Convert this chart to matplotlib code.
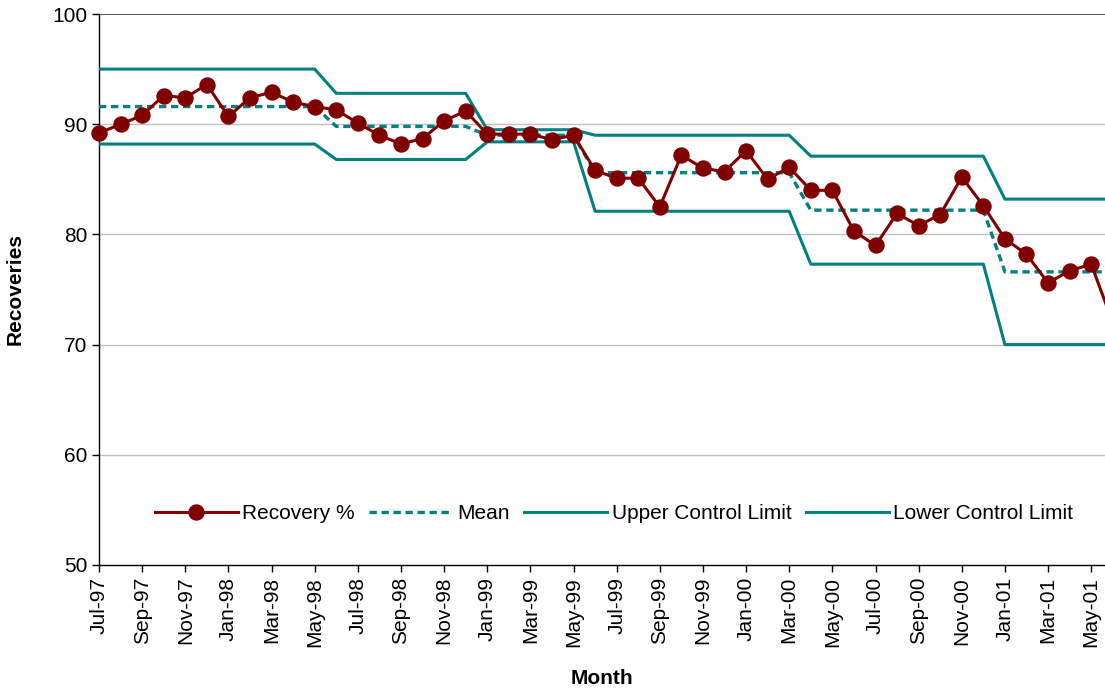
import numpy as np
import matplotlib.pyplot as plt

# monthly recovery %, Jul-97 .. Jun-01
months = ['Jul-97', 'Aug-97', 'Sep-97', 'Oct-97', 'Nov-97', 'Dec-97',
          'Jan-98', 'Feb-98', 'Mar-98', 'Apr-98', 'May-98', 'Jun-98',
          'Jul-98', 'Aug-98', 'Sep-98', 'Oct-98', 'Nov-98', 'Dec-98',
          'Jan-99', 'Feb-99', 'Mar-99', 'Apr-99', 'May-99', 'Jun-99',
          'Jul-99', 'Aug-99', 'Sep-99', 'Oct-99', 'Nov-99', 'Dec-99',
          'Jan-00', 'Feb-00', 'Mar-00', 'Apr-00', 'May-00', 'Jun-00',
          'Jul-00', 'Aug-00', 'Sep-00', 'Oct-00', 'Nov-00', 'Dec-00',
          'Jan-01', 'Feb-01', 'Mar-01', 'Apr-01', 'May-01', 'Jun-01']
recovery = [89.2, 90.0, 90.8, 92.6, 92.4, 93.6, 90.7, 92.4, 92.9, 92.0, 91.6, 91.3,
            90.1, 89.0, 88.2, 88.7, 90.3, 91.2, 89.1, 89.1, 89.1, 88.6, 89.0, 85.8,
            85.1, 85.1, 82.5, 87.2, 86.0, 85.7, 87.6, 85.0, 86.1, 84.0, 84.0, 80.3,
            79.0, 81.9, 80.8, 81.8, 85.2, 82.6, 79.6, 78.2, 75.6, 76.7, 77.3, 72.0]

# control chart phases: number of months in each phase and its limits
phase_len = [11, 7, 5, 10, 9, 6]
phase_mean = [91.6, 89.8, 89.0, 85.6, 82.2, 76.6]
phase_ucl = [95.0, 92.8, 89.5, 89.0, 87.1, 83.2]
phase_lcl = [88.2, 86.8, 88.4, 82.1, 77.3, 70.0]

mean = np.repeat(phase_mean, phase_len)
ucl = np.repeat(phase_ucl, phase_len)
lcl = np.repeat(phase_lcl, phase_len)

plt.rcParams['font.family'] = ['Liberation Sans', 'DejaVu Sans']

red = '#800000'
teal = '#008080'
fs = 15

fig = plt.figure(figsize=(11.05, 6.89), dpi=100)
ax = fig.add_axes([99 / 1105, 1 - 565 / 689, 1 - 99 / 1105, (565 - 14) / 689])

x = np.arange(len(months))
for v in [60, 70, 80, 90]:
    ax.axhline(v, color='#c0c0c0', lw=1, zorder=0)
ax.axhline(100, color='#333333', lw=1.2, zorder=0)

ax.plot(x, recovery, color=red, lw=2.2, marker='o', markersize=10.8,
        label='Recovery %', zorder=5, clip_on=False)
ax.plot(x, mean, color=teal, lw=2.4, dashes=(2.2, 1.4), label='Mean', zorder=3)
ax.plot(x, ucl, color=teal, lw=2.2, label='Upper Control Limit', zorder=3)
ax.plot(x, lcl, color=teal, lw=2.2, label='Lower Control Limit', zorder=3)

ax.set_xlim(0, 46.64)
ax.set_ylim(50, 100)
ax.set_yticks(range(50, 101, 10))
ax.set_xticks(x[::2])
ax.set_xticklabels(months[::2], rotation=90)
ax.tick_params(axis='both', labelsize=fs, length=5, width=1, colors='black')

for side in ['top', 'right']:
    ax.spines[side].set_visible(False)
ax.spines['left'].set_linewidth(1)
ax.spines['bottom'].set_linewidth(1)

ax.set_xlabel('Month', fontsize=fs, fontweight='bold', labelpad=16)
ax.set_ylabel('Recoveries', fontsize=fs, fontweight='bold', labelpad=20)

leg = ax.legend(loc='center', bbox_to_anchor=(0.512, 0.0926), ncol=4, frameon=False,
                fontsize=fs, handlelength=4.0, handletextpad=0.2, columnspacing=0.7)

fig.savefig('out.png', dpi=100)
